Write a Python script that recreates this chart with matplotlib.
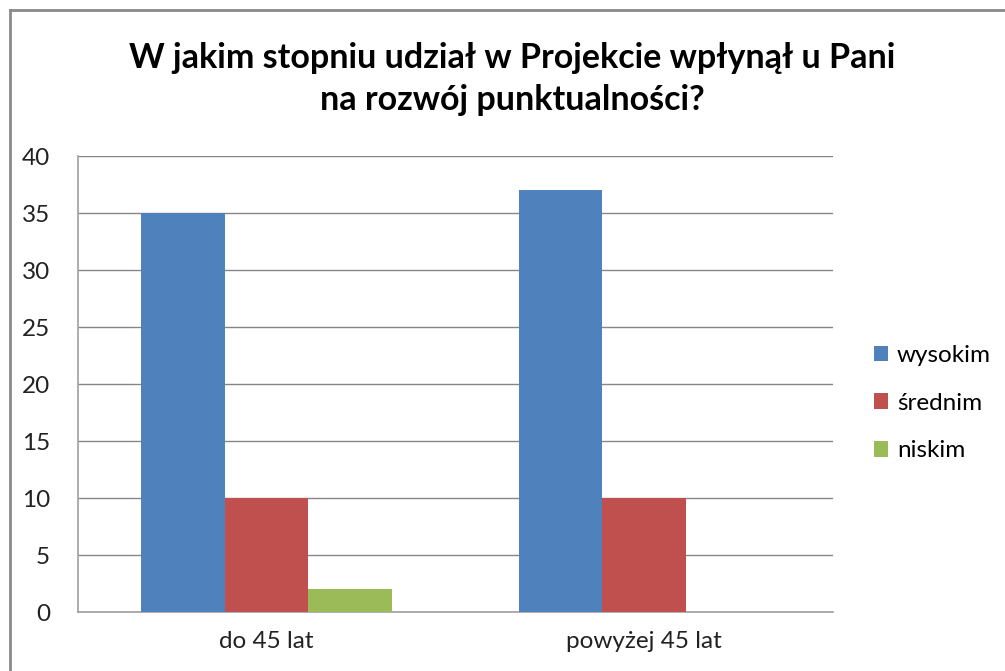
import matplotlib.pyplot as plt
import numpy as np
from matplotlib.lines import Line2D

plt.rcParams['font.family'] = ['Lato', 'DejaVu Sans']

categories = ['do 45 lat', 'powyżej 45 lat']
series = ['wysokim', 'średnim', 'niskim']
wysokim = [35, 37]
srednim = [10, 10]
niskim = [2, 0]
colors = ['#4F81BD', '#C0504D', '#9BBB59']

fig = plt.figure(figsize=(10.05, 6.71), dpi=100)
ax = fig.add_axes([0.0776, 0.0879, 0.7512, 0.6796])

x = np.arange(len(categories))
w = 0.2212
for i, (vals, c, name) in enumerate(zip([wysokim, srednim, niskim], colors, series)):
    ax.bar(x + (i - 1) * w, vals, width=w, color=c, label=name, zorder=3)

ax.set_xlim(-0.5, 1.5)
ax.set_ylim(0, 40)
ax.set_yticks(range(0, 41, 5))
ax.set_xticks(x)
ax.set_xticklabels(categories)
ax.tick_params(axis='both', length=0, labelsize=17.5, colors='#222222')
ax.tick_params(axis='x', pad=14)
ax.tick_params(axis='y', pad=20)
ax.grid(axis='y', color='#868686', linewidth=1, zorder=0)
for s in ['top', 'right']:
    ax.spines[s].set_visible(False)
for s in ['left', 'bottom']:
    ax.spines[s].set_color('#a0a0a0')
    ax.spines[s].set_linewidth(1.2)

fig.text(0.51, 0.882, 'W jakim stopniu udział w Projekcie wpłynął u Pani\nna rozwój punktualności?',
         ha='center', va='center', fontsize=24.5, fontweight='bold', linespacing=1.4)

ax.legend(loc='center left', bbox_to_anchor=(1.025, 0.458), frameon=False, fontsize=17.5,
          handlelength=0.6, handleheight=0.6, handletextpad=0.35, labelspacing=1.1)

# chart border (left and top)
fig.add_artist(Line2D([0.0095, 0.0095], [0, 0.985], color='#8a8a8a', linewidth=2, transform=fig.transFigure))
fig.add_artist(Line2D([0.0095, 1], [0.985, 0.985], color='#8a8a8a', linewidth=2, transform=fig.transFigure))

fig.savefig('out.png', dpi=100)
